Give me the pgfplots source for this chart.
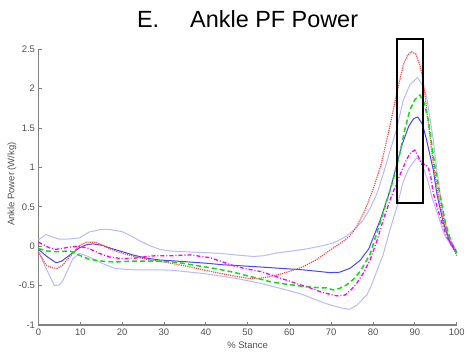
\documentclass[border=0pt]{standalone}
\usepackage{pgfplots}
\pgfplotsset{compat=1.18}
\usepackage{fontspec}
\setmainfont{Liberation Sans}
\definecolor{meanblue}{RGB}{70,70,245}
\definecolor{bandblue}{RGB}{185,185,255}
\definecolor{dotred}{RGB}{255,70,70}
\definecolor{dashgreen}{RGB}{20,220,20}
\definecolor{dashmag}{RGB}{255,0,255}
\definecolor{axgray}{RGB}{128,128,128}
\definecolor{labgray}{RGB}{80,80,80}
\begin{document}
\begin{tikzpicture}
\useasboundingbox (-38.5bp,-31bp) rectangle (427.5bp,325bp);
\begin{axis}[
  at={(0,0)}, anchor=south west,
  scale only axis, width=418.2bp, height=275.7bp,
  xmin=0, xmax=100, ymin=-1, ymax=2.5,
  xtick={0,10,...,100}, ytick={-1,-0.5,0,0.5,1,1.5,2,2.5},
  axis x line*=bottom, axis y line*=left,
  axis line style={-, axgray, line width=1.2bp},
  tick align=inside, major tick length=3bp,
  tick style={axgray, line width=0.8bp},
  ticklabel style={font=\fontsize{9.5}{11}\selectfont, text=labgray},
  /pgf/number format/assume math mode=true,
  clip=false,
]
% upper band
\addplot[bandblue, line width=1bp] coordinates {
(0,0.08)(1.8,0.15)(3.2,0.12)(5,0.09)(7,0.09)(9.8,0.105)(12.1,0.18)(15,0.215)(17.5,0.21)(20,0.185)(22.5,0.12)(24.5,0.06)(26.5,0.01)(29,-0.04)(31.4,-0.06)(37,-0.075)(43.4,-0.09)(47,-0.11)(51.4,-0.13)(54,-0.12)(57,-0.085)(60,-0.065)(64,-0.035)(67.3,0)(69.7,0.03)(71.3,0.06)(73.7,0.13)(75.5,0.21)(77.6,0.33)(79.3,0.48)(81,0.68)(82.5,0.93)(84,1.2)(85.7,1.5)(87.2,1.85)(88.8,2.05)(90.6,2.14)(91.8,2.05)(92.8,1.9)(94.4,1.35)(95.4,0.9)(96.5,0.5)(97.8,0.15)(100,-0.06)};
% lower band
\addplot[bandblue, line width=1bp] coordinates {
(0,-0.07)(1.8,-0.28)(3.8,-0.50)(5,-0.49)(5.8,-0.44)(7,-0.3)(8.2,-0.16)(9.8,-0.09)(12.1,-0.135)(15.3,-0.22)(18.5,-0.285)(23.3,-0.30)(29,-0.30)(32,-0.305)(40,-0.35)(47.4,-0.41)(53,-0.47)(59.3,-0.555)(63,-0.61)(67.3,-0.70)(70,-0.75)(72.9,-0.79)(74.5,-0.80)(76.1,-0.75)(78.5,-0.62)(79.5,-0.51)(81,-0.3)(82.4,-0.11)(84,0.2)(85.7,0.5)(87.2,0.82)(88.5,0.98)(90.4,1.12)(91.5,1.08)(93,0.85)(94.2,0.6)(95.5,0.4)(97,0.15)(100,-0.1)};
% mean
\addplot[meanblue, line width=1bp] coordinates {
(0,-0.04)(2,-0.13)(4.2,-0.21)(5.5,-0.19)(7.4,-0.115)(9.8,-0.02)(11.5,0.02)(13,0.03)(15.3,0.01)(17.5,-0.03)(20.1,-0.07)(22.5,-0.11)(25.7,-0.15)(29,-0.175)(32,-0.185)(36,-0.2)(40,-0.215)(44,-0.235)(47.4,-0.245)(52,-0.26)(57.7,-0.28)(63.3,-0.30)(67,-0.32)(69.7,-0.335)(72,-0.33)(74.5,-0.28)(76.9,-0.18)(79,-0.03)(81.7,0.33)(84,0.7)(85.5,1.0)(87,1.3)(88.5,1.52)(89.7,1.62)(90.7,1.64)(91.8,1.55)(92.8,1.35)(94.4,0.97)(95.3,0.65)(96.8,0.3)(98.5,0.03)(100,-0.08)};
% red dotted
\addplot[dotred, line width=1.2bp, densely dotted] coordinates {
(0,-0.07)(1.8,-0.24)(3.4,-0.275)(4.5,-0.28)(5.8,-0.24)(7,-0.16)(8.2,-0.09)(9.8,0.01)(11.4,0.05)(13.7,0.05)(15.5,0.01)(16.9,-0.03)(19,-0.07)(21.7,-0.115)(24.5,-0.15)(27.3,-0.18)(30,-0.2)(32.1,-0.22)(36,-0.26)(39.4,-0.30)(44,-0.35)(47.4,-0.385)(50,-0.405)(52.2,-0.41)(55,-0.39)(57,-0.365)(60,-0.32)(63.3,-0.26)(66.5,-0.17)(69.7,-0.05)(72.5,0.05)(74.5,0.13)(76.1,0.25)(78,0.45)(80,0.72)(82,1.05)(84,1.52)(85.5,1.9)(87.2,2.3)(88.3,2.43)(89.2,2.47)(90.2,2.44)(91.2,2.3)(92,2.1)(92.8,1.75)(93.6,1.4)(94.4,1.05)(95.6,0.65)(97,0.3)(98.5,0.05)(100,-0.12)};
% green dashed
\addplot[dashgreen, line width=1.5bp, dash pattern=on 5bp off 3bp] coordinates {
(0,-0.03)(2,-0.06)(4.2,-0.07)(7.4,-0.06)(8.5,-0.08)(9.8,-0.115)(12.1,-0.165)(15.3,-0.19)(18.5,-0.20)(21.7,-0.19)(25.7,-0.19)(29,-0.19)(32.1,-0.20)(35,-0.22)(39.4,-0.26)(43,-0.29)(47.4,-0.34)(51,-0.39)(55.4,-0.45)(59,-0.48)(63.3,-0.51)(66.5,-0.525)(68.9,-0.53)(70.5,-0.555)(72,-0.535)(73.7,-0.49)(75.5,-0.41)(76.9,-0.32)(78,-0.22)(79.3,-0.1)(80.8,0.15)(82.4,0.42)(84.8,0.84)(86.4,1.18)(87.6,1.48)(88.8,1.73)(90,1.86)(91.2,1.92)(92.2,1.82)(93.2,1.6)(94.8,1.01)(96,0.65)(97.3,0.3)(98.7,0.05)(100,-0.08)};
% magenta dash-dot
\addplot[dashmag, line width=1.3bp, dash pattern=on 4bp off 2bp on 1bp off 2bp] coordinates {
(0,0.05)(1.5,0.01)(2.6,-0.02)(4.2,-0.04)(6,-0.025)(7.4,-0.01)(9.8,0)(12.1,-0.03)(14.5,-0.09)(16.9,-0.135)(20.1,-0.16)(23.3,-0.15)(26,-0.13)(28.1,-0.12)(32.1,-0.12)(36.2,-0.11)(41,-0.145)(44,-0.2)(47.4,-0.26)(50,-0.29)(53,-0.32)(56,-0.37)(59.3,-0.43)(62,-0.48)(65,-0.53)(67.5,-0.58)(69.7,-0.61)(71.3,-0.63)(73.3,-0.62)(74.8,-0.55)(76.1,-0.47)(77.8,-0.33)(79.3,-0.17)(81,0.08)(82.4,0.33)(84.5,0.65)(86,0.85)(88,1.1)(89,1.19)(90,1.22)(90.8,1.14)(91.6,1.04)(92.5,1.04)(93.2,1.0)(93.8,0.88)(94.4,0.67)(96,0.375)(97.6,0.12)(100,-0.07)};
% highlight box
\draw[black, line width=2bp] (axis cs:85.7,0.553) rectangle (axis cs:92.06,2.628);
% title and labels
\node[font=\fontsize{23.5}{27}\selectfont] at (rel axis cs:0.5,1) [yshift=30.3bp] {E.\hspace{31bp}Ankle PF Power};
\node[font=\fontsize{9.5}{11}\selectfont, text=labgray, xshift=-26.5bp, yshift=3bp, rotate=90] at (rel axis cs:0,0.5) {Ankle Power (W/kg)};
\node[font=\fontsize{9.5}{11}\selectfont, text=labgray] at (rel axis cs:0.5,0) [yshift=-20bp] {\% Stance};
\end{axis}
\end{tikzpicture}
\end{document}
